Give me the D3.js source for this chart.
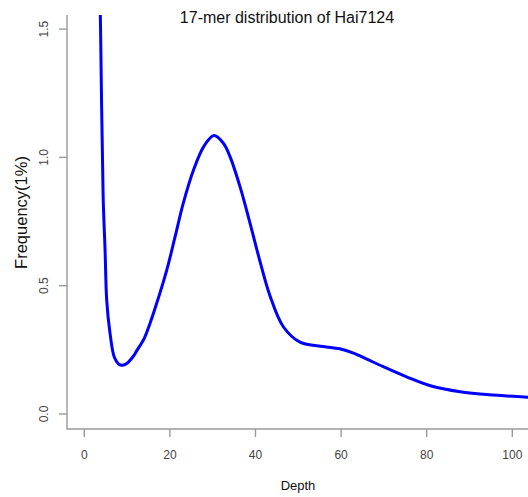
<!DOCTYPE html>
<html>
<head>
<meta charset="utf-8">
<script src="https://cdn.jsdelivr.net/npm/d3@7"></script>
<style>
  html, body { margin: 0; padding: 0; background: #fff; }
  svg { display: block; font-family: "Liberation Sans", Arial, sans-serif; }
</style>
</head>
<body>
<div id="chart"></div>
<script>
// k-mer depth values
const depth = [3.5, 3.8, 4.4, 4.85, 5.25, 6.0, 7.0, 8.0, 8.9, 10, 11.45, 12.2, 14, 15.35, 16.5, 19.25, 21.2, 23.1, 25.5, 28, 30.3, 32.5, 34, 36.4, 38.7, 41, 43.4, 46.5, 50.4, 55.8, 59.7, 62.9, 66, 69.1, 75.3, 81.5, 87.8, 95.6, 103.6, 106];
const freq  = [1.80, 1.50, 0.85, 0.64, 0.44, 0.316, 0.222, 0.195, 0.19, 0.198, 0.225, 0.245, 0.295, 0.353, 0.41, 0.56, 0.69, 0.82, 0.95, 1.045, 1.085, 1.055, 1.005, 0.885, 0.745, 0.598, 0.46, 0.34, 0.28, 0.263, 0.254, 0.237, 0.214, 0.19, 0.145, 0.107, 0.087, 0.074, 0.065, 0.063];
const xTicks = [0, 20, 40, 60, 80, 100];
const yTicks = [0.0, 0.5, 1.0, 1.5];

const width = 528, height = 497;
const plotL = 67, plotT = 15, plotB = 429, plotR = 530;

const svg = d3.select("#chart").append("svg")
    .attr("width", width).attr("height", height);

const x = d3.scaleLinear().domain([0, 100]).range([84.3, 512.3]);
const y = d3.scaleLinear().domain([0, 0.5]).range([414, 285.7]);

const axisColor = "#9a9a9a";
const labelColor = "#444";

// clip to plot region
svg.append("clipPath").attr("id", "plotClip")
  .append("rect")
    .attr("x", plotL).attr("y", plotT)
    .attr("width", plotR - plotL).attr("height", plotB - plotT);

// curve
const pts = depth.map((d, i) => ({ d: d, v: freq[i] }));
const line = d3.line()
    .x(p => x(p.d))
    .y(p => y(p.v))
    .curve(d3.curveCatmullRom.alpha(0.5));

svg.append("path")
    .datum(pts)
    .attr("clip-path", "url(#plotClip)")
    .attr("d", line)
    .attr("fill", "none")
    .attr("stroke", "#0000ff")
    .attr("stroke-width", 3)
    .attr("stroke-linejoin", "round");

// L-shaped frame
svg.append("path")
    .attr("d", `M${plotL},${plotT}V${plotB}H${plotR}`)
    .attr("fill", "none")
    .attr("stroke", axisColor)
    .attr("stroke-width", 1.4);

// x ticks
xTicks.forEach(t => {
    svg.append("line")
        .attr("x1", x(t)).attr("x2", x(t))
        .attr("y1", plotB).attr("y2", plotB + 8)
        .attr("stroke", axisColor).attr("stroke-width", 1.4);
    svg.append("text")
        .attr("x", x(t)).attr("y", 459)
        .attr("text-anchor", "middle")
        .attr("fill", labelColor)
        .style("font-size", "12px")
        .text(t);
});

// y ticks (labels rotated like R's default)
yTicks.forEach(t => {
    svg.append("line")
        .attr("x1", plotL - 8).attr("x2", plotL)
        .attr("y1", y(t)).attr("y2", y(t))
        .attr("stroke", axisColor).attr("stroke-width", 1.4);
    svg.append("text")
        .attr("transform", `translate(48,${y(t)}) rotate(-90)`)
        .attr("text-anchor", "middle")
        .attr("fill", labelColor)
        .style("font-size", "12px")
        .text(t.toFixed(1));
});

// titles
svg.append("text")
    .attr("x", 287).attr("y", 23)
    .attr("text-anchor", "middle")
    .attr("fill", "#111")
    .style("font-size", "16px")
    .text("17-mer distribution of Hai7124");

svg.append("text")
    .attr("x", 298).attr("y", 490)
    .attr("text-anchor", "middle")
    .attr("fill", "#111")
    .style("font-size", "13px")
    .text("Depth");

svg.append("text")
    .attr("transform", "translate(27,212.5) rotate(-90)")
    .attr("text-anchor", "middle")
    .attr("fill", "#111")
    .style("font-size", "16.5px")
    .text("Frequency(1%)");
</script>
</body>
</html>
